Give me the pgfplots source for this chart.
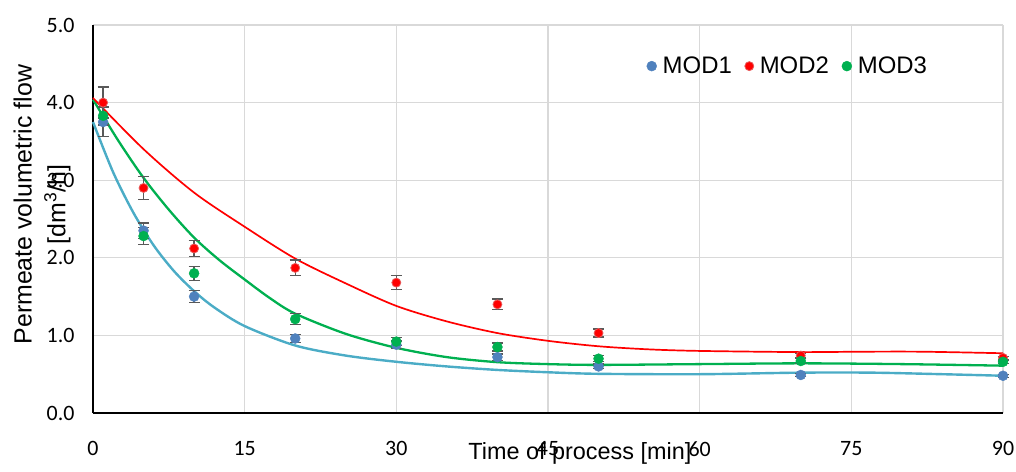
\documentclass[border=0pt]{standalone}
\usepackage{pgfplots}
\pgfplotsset{compat=1.18}
\usepackage{fontspec}
\setmainfont{Liberation Sans}
\newfontfamily\tickfont{Carlito}

\definecolor{modA}{HTML}{4F81BD}
\definecolor{trendA}{HTML}{4BACC6}
\definecolor{modB}{HTML}{FF0000}
\definecolor{modBedge}{HTML}{E85A5A}
\definecolor{modC}{HTML}{00B050}
\definecolor{gridgray}{HTML}{D9D9D9}
\definecolor{errgray}{HTML}{595959}

% measured points: time [min], flow [dm3/h], error
\pgfplotstableread{
t y e
1 3.75 0.19
5 2.35 0.10
10 1.50 0.075
20 0.96 0.05
30 0.88 0.05
40 0.72 0.04
50 0.60 0.03
70 0.49 0.02
90 0.48 0.02
}\modone
\pgfplotstableread{
t y e
1 4.00 0.20
5 2.90 0.15
10 2.12 0.10
20 1.87 0.10
30 1.68 0.09
40 1.40 0.07
50 1.03 0.05
70 0.74 0.03
90 0.71 0.02
}\modtwo
\pgfplotstableread{
t y e
1 3.83 0.12
5 2.28 0.11
10 1.80 0.09
20 1.21 0.07
30 0.92 0.05
40 0.85 0.05
50 0.70 0.04
70 0.67 0.03
90 0.66 0.02
}\modthree

\begin{document}
\begin{tikzpicture}
\begin{axis}[
    name=ax,
    scale only axis,
    width=910bp, height=388bp,
    xmin=0, xmax=90, ymin=0, ymax=5,
    xtick={0,15,...,90},
    ytick={0,1,...,5},
    axis lines=left,
    axis line style={-, black, line width=2.2bp},
    major tick length=15bp,
    tick style={draw=none},
    ytick align=outside,
    xtick align=inside,
    grid=major,
    grid style={gridgray, line width=1.3bp},
    /pgf/number format/assume math mode=true,
    tick label style={font=\tickfont\fontsize{22}{22}\selectfont},
    yticklabel style={/pgf/number format/fixed, /pgf/number format/fixed zerofill,
        /pgf/number format/precision=1},
    xticklabel shift=25bp,
    xlabel={Time of process [min]},
    xlabel style={font=\fontsize{23.5}{23.5}\selectfont, at={(axis description cs:0.535,0)}, anchor=base, yshift=-46bp},
    ylabel={Permeate volumetric flow\\{}[dm\textsuperscript{3}/h]},
    ylabel style={font=\fontsize{25}{34}\selectfont, align=center, at={(axis description cs:-0.056,0.537)}, anchor=center},
    legend columns=3,
    legend style={draw=none, fill=none, font=\fontsize{24}{24}\selectfont,
        at={(axis description cs:0.605,0.894)}, anchor=west,
        column sep=4bp, /tikz/every even column/.append style={column sep=11bp}},
    legend image code/.code={\draw[#1] plot coordinates {(0bp,0bp)};},
    clip=false,
]

% trend lines
\addplot[trendA, line width=2.4bp, smooth, forget plot] coordinates {
(0,3.75) (2,3.10) (4,2.58) (6,2.16) (8,1.83) (10,1.57) (12,1.36) (15,1.12)
(20,0.87) (25,0.74) (30,0.66) (35,0.60) (40,0.555) (45,0.525) (50,0.505)
(60,0.50) (70,0.52) (77,0.52) (84,0.50) (90,0.48)
};
\addplot[modC, line width=2.3bp, smooth, forget plot] coordinates {
(0,4.04) (2.5,3.51) (5,3.03) (7.5,2.62) (10,2.26) (12.5,1.97) (15,1.72)
(17.5,1.48) (20,1.28) (25,1.02) (30,0.84) (35,0.72) (40,0.655) (45,0.63)
(50,0.62) (60,0.63) (70,0.64) (80,0.63) (90,0.61)
};
\addplot[modB, line width=1.7bp, smooth, forget plot] coordinates {
(0,4.06) (5,3.40) (10,2.84) (15,2.40) (20,1.99) (25,1.67) (30,1.38)
(35,1.18) (40,1.03) (45,0.93) (50,0.86) (55,0.82) (60,0.80) (70,0.785)
(76,0.79) (82,0.79) (90,0.77)
};

% measured points with error bars
\addplot[only marks, mark=*, mark size=5bp, mark options={fill=modA, draw=modA},
    error bars/.cd, y dir=both, y explicit,
    error bar style={errgray, line width=1.4bp},
    error mark options={rotate=90, errgray, line width=1.4bp, mark size=5.5bp}]
    table[x=t, y=y, y error=e] {\modone};
\addlegendentry{MOD1}
\addplot[only marks, mark=*, mark size=4.5bp, mark options={fill=modB, draw=modBedge, line width=0.8bp},
    error bars/.cd, y dir=both, y explicit,
    error bar style={errgray, line width=1.4bp},
    error mark options={rotate=90, errgray, line width=1.4bp, mark size=5.5bp}]
    table[x=t, y=y, y error=e] {\modtwo};
\addlegendentry{MOD2}
\addplot[only marks, mark=*, mark size=5bp, mark options={fill=modC, draw=modC},
    error bars/.cd, y dir=both, y explicit,
    error bar style={errgray, line width=1.4bp},
    error mark options={rotate=90, errgray, line width=1.4bp, mark size=5.5bp}]
    table[x=t, y=y, y error=e] {\modthree};
\addlegendentry{MOD3}
\end{axis}
\pgfresetboundingbox
\path ([shift={(-93bp,-58bp)}]ax.south west) rectangle ([shift={(13bp,25bp)}]ax.north east);
\end{tikzpicture}
\end{document}
